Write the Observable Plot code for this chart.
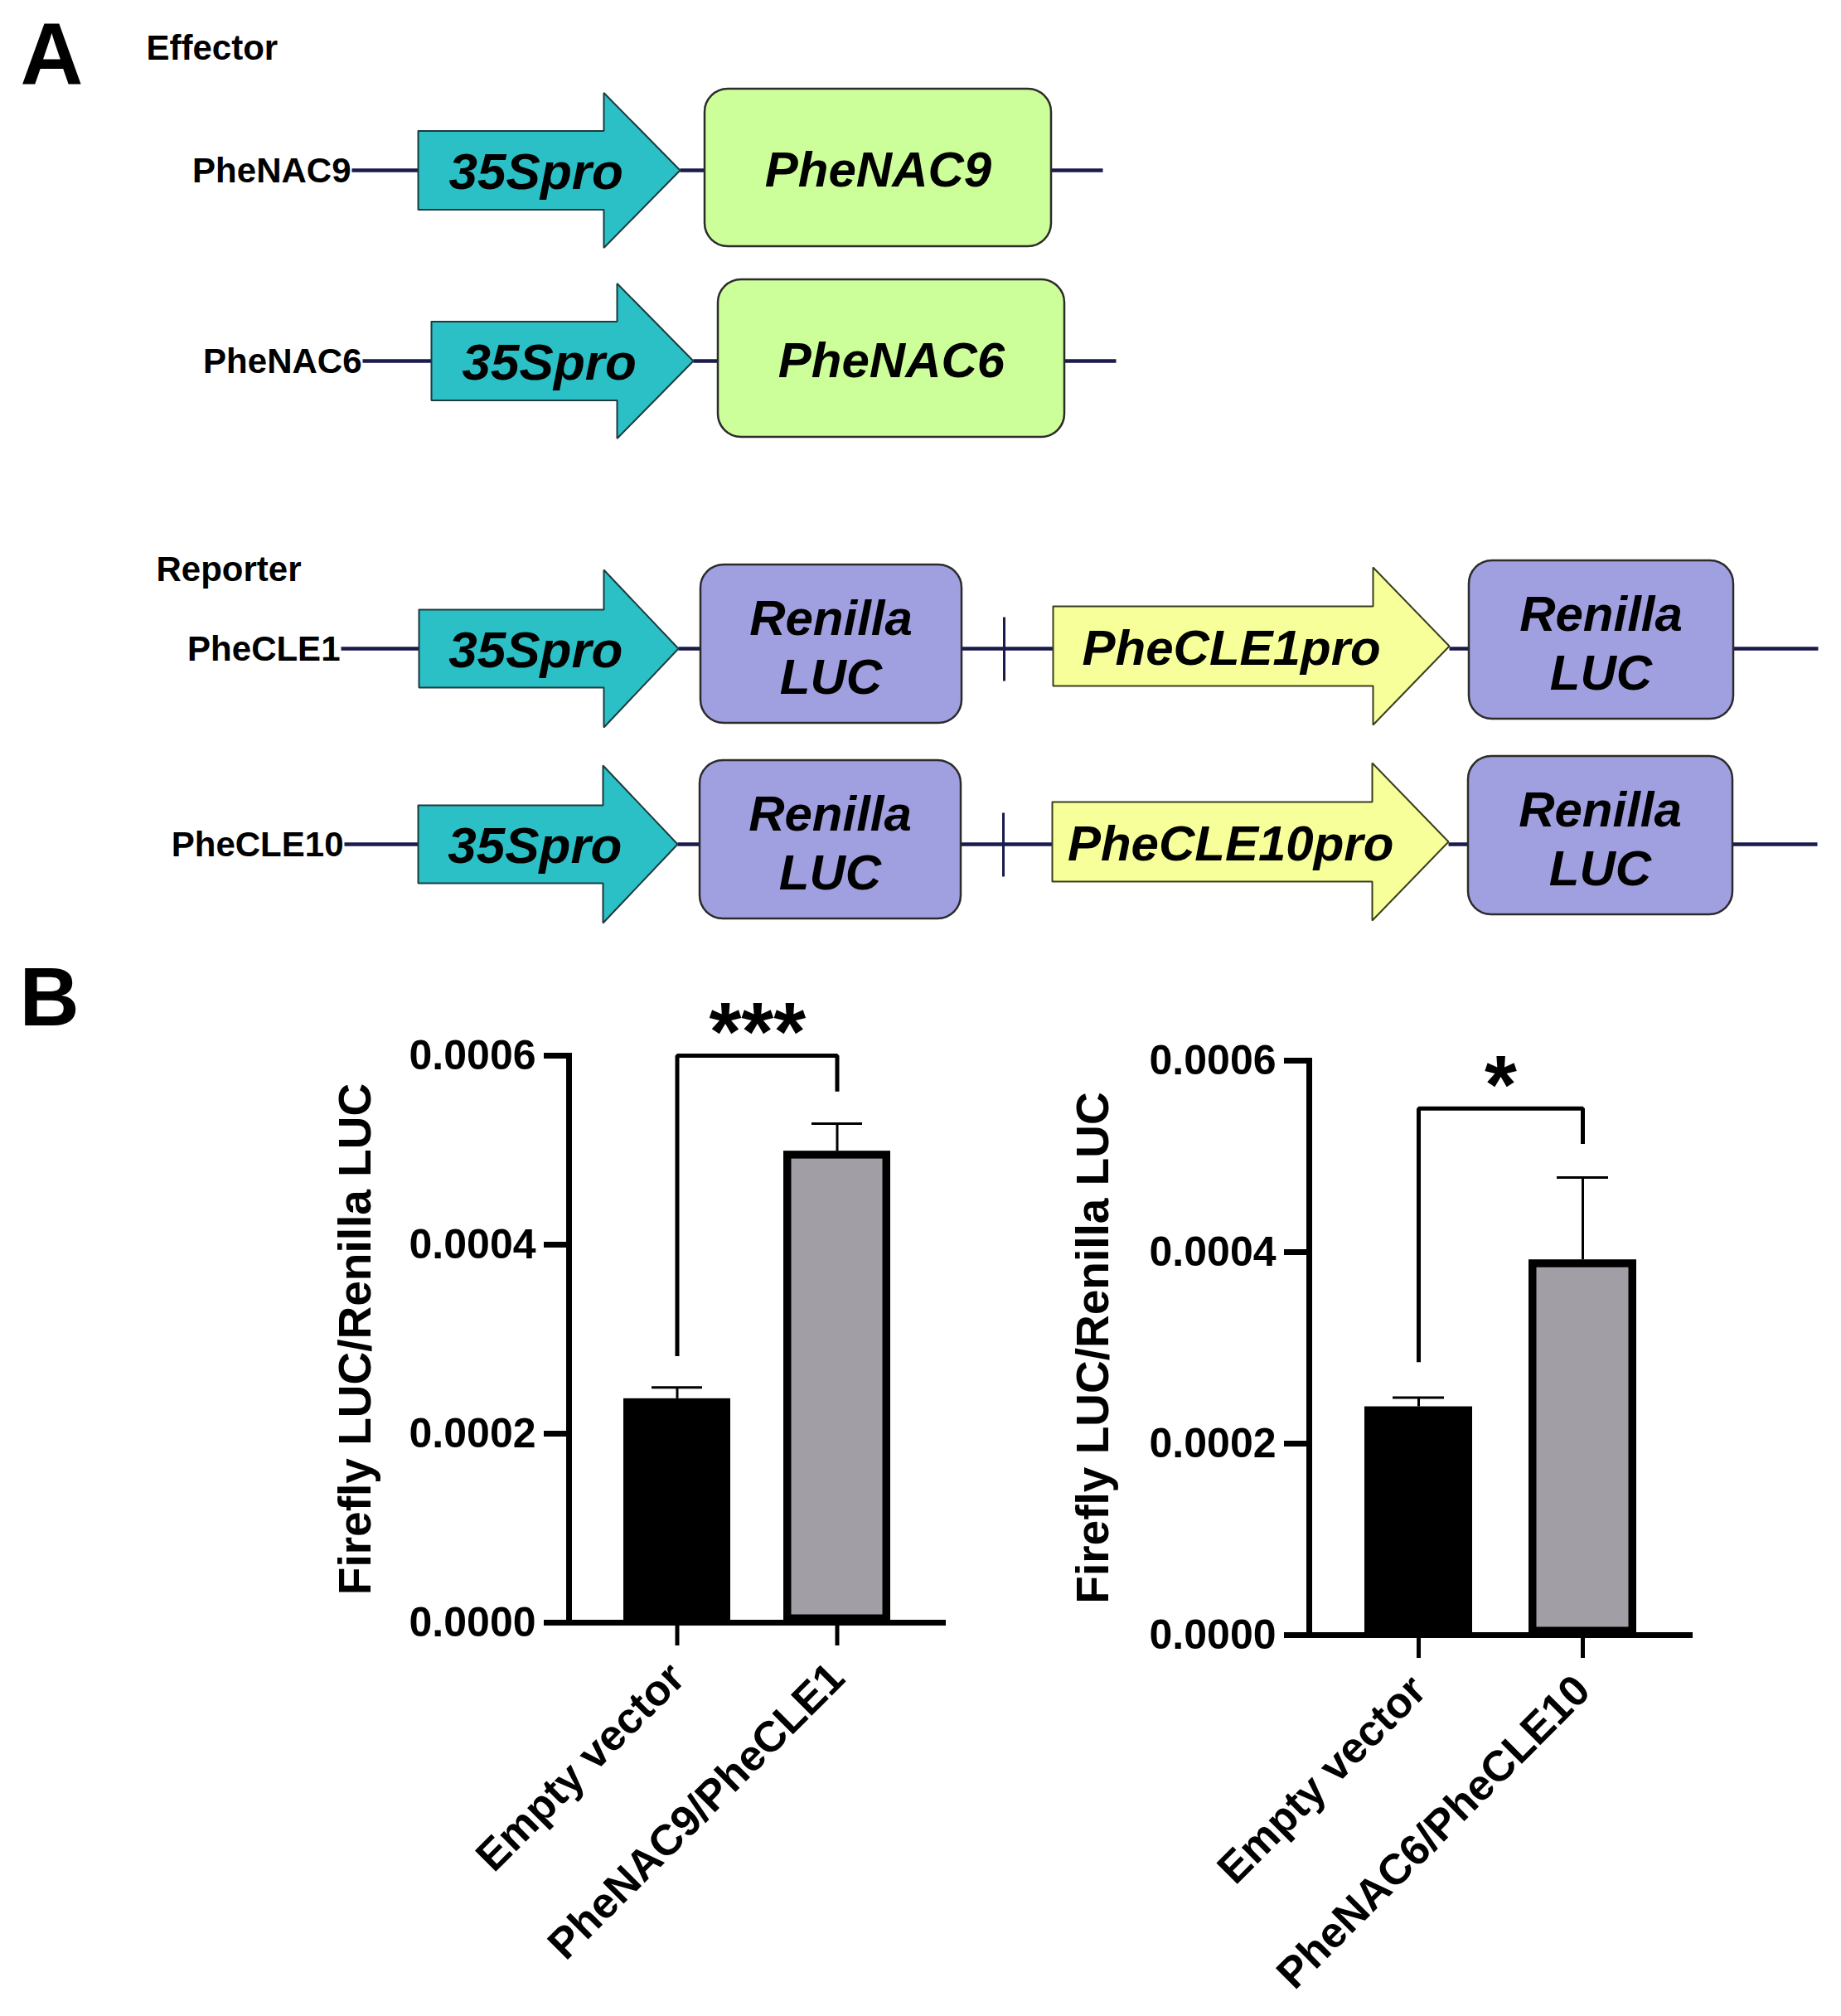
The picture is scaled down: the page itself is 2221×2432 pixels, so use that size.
<!DOCTYPE html>
<html><head><meta charset="utf-8">
<script src="https://cdn.jsdelivr.net/npm/d3@7"></script>
<script src="https://cdn.jsdelivr.net/npm/@observablehq/plot@0.6"></script>
<style>
html,body{margin:0;padding:0;background:#fff;}
#fig{position:relative;width:2221px;height:2432px;overflow:hidden;background:#fff;}
#fig svg{position:absolute;}
</style></head><body><div id="fig"></div>
<script>
// ---------------- data ----------------
const effectors = ["PheNAC9", "PheNAC6"];
const reporters = ["PheCLE1", "PheCLE10"];
const reporterPromoters = ["PheCLE1pro", "PheCLE10pro"];
const constitutivePromoter = "35Spro";
const normalizerGene = "Renilla\nLUC";
const sectionTitles = ["Effector", "Reporter"];
const panelLetters = ["A", "B"];

const groups1 = ["Empty vector", "PheNAC9/PheCLE1"];
const means1 = [0.000237, 0.000499];
const sems1 = [0.000012, 0.000029];
const bracket1 = [0.000282, 0.0006, 0.000562]; // left arm start, top, right arm end
const sig1 = "***";

const groups2 = ["Empty vector", "PheNAC6/PheCLE10"];
const means2 = [0.0002385, 0.000392];
const sems2 = [0.0000095, 0.000086];
const bracket2 = [0.000285, 0.00055, 0.000513];
const sig2 = "*";

const yTicks = [0, 0.0002, 0.0004, 0.0006];
const yLabel = "Firefly LUC/Renilla LUC";

// ---------------- style ----------------
const FONT = '"Liberation Sans", Arial, Helvetica, sans-serif';
const NAVY = "#1b1b4d";
const TEAL = "#2bbfc6", GREEN = "#ccff99", PURPLE = "#a0a0e0", YELLOW = "#f6ff99";
const BAR_COLORS = ["#000000", "#a19fa5"];
const fig = document.getElementById("fig");

// ---------------- panel A: construct diagram ----------------
const links = [], ticks = [], tealArrows = [], yellowArrows = [], boxes = [], texts = [];
function arrow(list, id, x0, xb, xt, cy, hb, hh) {
  [[x0, cy - hb], [xb, cy - hb], [xb, cy - hh], [xt, cy], [xb, cy + hh], [xb, cy + hb], [x0, cy + hb], [x0, cy - hb]]
    .forEach(([x, y]) => list.push({id, x, y}));
}
const effRows = [{cy: 205, a: 504, end: 424}, {cy: 435, a: 520, end: 437}];
effectors.forEach((name, i) => {
  const {cy, a, end} = effRows[i];
  links.push({x1: end, x2: a, y: cy}, {x1: a + 316, x2: a + 346, y: cy}, {x1: a + 764, x2: a + 826, y: cy});
  arrow(tealArrows, "e" + i, a, a + 224, a + 316, cy, 47.5, 93.5);
  boxes.push({x1: a + 346, x2: a + 764, y1: cy - 98, y2: cy + 92, fill: GREEN});
  texts.push({x: end - 1, y: cy + 1, t: name, size: 42, style: "normal", anchor: "end"});
  texts.push({x: a + 0.45 * 316, y: cy - 1, t: constitutivePromoter, size: 62, style: "italic", anchor: "middle"});
  texts.push({x: a + 555, y: cy - 3, t: name, size: 60, style: "italic", anchor: "middle"});
});
const repRows = [{cy: 782, a: 505, end: 411}, {cy: 1018, a: 504, end: 415}];
reporters.forEach((name, i) => {
  const {cy, a, end} = repRows[i];
  links.push({x1: end, x2: a, y: cy}, {x1: a + 313, x2: a + 340, y: cy}, {x1: a + 655, x2: a + 765, y: cy},
             {x1: a + 1243, x2: a + 1267, y: cy}, {x1: a + 1586, x2: a + 1688, y: cy});
  ticks.push({x: a + 706, y1: cy - 38, y2: cy + 39});
  arrow(tealArrows, "r" + i, a, a + 223, a + 313, cy, 47, 95);
  boxes.push({x1: a + 340, x2: a + 655, y1: cy - 101, y2: cy + 90, fill: PURPLE});
  arrow(yellowArrows, "y" + i, a + 765, a + 1151, a + 1243, cy - 3, 48, 95);
  boxes.push({x1: a + 1267, x2: a + 1586, y1: cy - 106, y2: cy + 85, fill: PURPLE});
  texts.push({x: end - 1, y: cy + 1, t: name, size: 42, style: "normal", anchor: "end"});
  texts.push({x: a + 0.45 * 313, y: cy - 1, t: constitutivePromoter, size: 62, style: "italic", anchor: "middle"});
  texts.push({x: a + 765 + 0.45 * 478, y: cy - 3, t: reporterPromoters[i], size: 60, style: "italic", anchor: "middle"});
  texts.push({x: a + 497, y: cy - 4, t: normalizerGene, size: 60, style: "italic", anchor: "middle"});
  texts.push({x: a + 1426, y: cy - 9, t: normalizerGene, size: 60, style: "italic", anchor: "middle"});
});
const headers = [
  {x: 24, y: 101, t: panelLetters[0], size: 105},
  {x: 176, y: 71, t: sectionTitles[0], size: 42},
  {x: 188, y: 700, t: sectionTitles[1], size: 42}
];

const panelA = Plot.plot({
  width: 2221, height: 1150, margin: 0,
  x: {type: "identity", axis: null}, y: {type: "identity", axis: null},
  style: {fontFamily: FONT, background: "transparent", overflow: "visible", color: "black"},
  marks: [
    Plot.link(links, {x1: "x1", x2: "x2", y1: "y", y2: "y", stroke: NAVY, strokeWidth: 4.5}),
    Plot.link(ticks, {x1: "x", x2: "x", y1: "y1", y2: "y2", stroke: NAVY, strokeWidth: 3}),
    Plot.line(tealArrows, {x: "x", y: "y", z: "id", fill: TEAL, stroke: "#1d3b3d", strokeWidth: 2, strokeLinejoin: "miter", curve: "linear"}),
    Plot.line(yellowArrows, {x: "x", y: "y", z: "id", fill: YELLOW, stroke: "#3b3d1d", strokeWidth: 2, strokeLinejoin: "miter", curve: "linear"}),
    Plot.rect(boxes, {x1: "x1", x2: "x2", y1: "y1", y2: "y2", fill: d => d.fill, rx: 28, stroke: "#2b2b2b", strokeWidth: 2.5}),
    Plot.text(texts.filter(d => d.style === "italic"), {x: "x", y: "y", text: "t", fontSize: d => d.size, fontStyle: "italic", textAnchor: "middle", fontWeight: "bold", lineAnchor: "middle", lineHeight: 1.18, fill: "black"}),
    Plot.text(texts.filter(d => d.style === "normal"), {x: "x", y: "y", text: "t", fontSize: d => d.size, textAnchor: "end", fontWeight: "bold", lineAnchor: "middle", fill: "black"}),
    Plot.text(headers, {x: "x", y: "y", text: "t", fontSize: d => d.size, textAnchor: "start", fontWeight: "bold", lineAnchor: "bottom", fill: "black"})
  ]
});
panelA.style.left = "0px"; panelA.style.top = "0px";
fig.appendChild(panelA);

// ---------------- panel B: bar charts ----------------
const TOP = 1150, H = 1282;
function barChart({groups, means, sems, bracket, sig, left, width, axisX, axisEnd, y0px, y6px, padIn, padOut, labelX, sigBaseline, letter}) {
  const data = groups.map((g, i) => ({g, mean: means[i], top: means[i] + sems[i]}));
  const marginLeft = axisX - left, marginRight = left + width - axisEnd;
  const marginTop = y6px - TOP, marginBottom = TOP + H - y0px;
  const plotW = axisEnd - axisX;
  const step = plotW / (groups.length - padIn + 2 * padOut);
  const br = [{g: groups[0], v: bracket[0]}, {g: groups[0], v: bracket[1]}, {g: groups[1], v: bracket[1]}, {g: groups[1], v: bracket[2]}];
  const marks = [
    Plot.ruleX(data, {x: "g", y1: "mean", y2: "top", stroke: "black", strokeWidth: 3}),
    Plot.tickY(data, {x: "g", y: "top", stroke: "black", strokeWidth: 3, insetLeft: 34, insetRight: 34}),
    Plot.barY(data, {x: "g", y: "mean", fill: "g", stroke: "black", strokeWidth: 9.5, inset: 4.75}),
    Plot.line(br, {x: "g", y: "v", stroke: "black", strokeWidth: 5, strokeLinejoin: "miter", strokeLinecap: "butt"}),
    Plot.text([sig], {x: () => groups[0], y: () => sigBaseline, dx: step / 2, fontSize: 100, fontWeight: "bold", lineAnchor: "bottom", fill: "black"}),
    Plot.axisY({ticks: yTicks, tickSize: 30, strokeWidth: 7, tickPadding: 10, fontSize: 50, fontWeight: "bold", tickFormat: d3.format(".4f"), label: null, fill: "black"}),
    Plot.frame({anchor: "left", strokeWidth: 7, stroke: "black"}),
    Plot.ruleY([0], {strokeWidth: 7, stroke: "black", insetLeft: -3.5}),
    Plot.axisX({tickSize: 28, strokeWidth: 5, tickRotate: -45, tickPadding: 30, fontSize: 52, fontWeight: "bold", label: null, fill: "black"}),
    Plot.text([yLabel], {frameAnchor: "left", textAnchor: "middle", rotate: -90, dx: labelX - axisX, fontSize: 55, fontWeight: "bold", fill: "black"})
  ];
  if (letter) marks.push(Plot.text([letter], {frameAnchor: "top-left", dx: 23 - axisX, dy: 1236 - y6px, fontSize: 100, fontWeight: "bold", textAnchor: "start", lineAnchor: "bottom", fill: "black"}));
  const svg = Plot.plot({
    width, height: H, marginLeft, marginRight, marginTop, marginBottom,
    x: {domain: groups, paddingInner: padIn, paddingOuter: padOut, align: 0.5},
    y: {domain: [0, 0.0006]},
    color: {domain: groups, range: BAR_COLORS},
    style: {fontFamily: FONT, background: "transparent", overflow: "visible", color: "black"},
    marks
  });
  svg.style.left = left + "px"; svg.style.top = TOP + "px";
  fig.appendChild(svg);
}

barChart({groups: groups1, means: means1, sems: sems1, bracket: bracket1, sig: sig1,
  left: 0, width: 1200, axisX: 686, axisEnd: 1141, y0px: 1957, y6px: 1273,
  padIn: 0.33, padOut: 0.34, labelX: 429, sigBaseline: 0.000595, letter: panelLetters[1]});
barChart({groups: groups2, means: means2, sems: sems2, bracket: bracket2, sig: sig2,
  left: 1200, width: 1021, axisX: 1579, axisEnd: 2042, y0px: 1972, y6px: 1279,
  padIn: 0.343, padOut: 0.34, labelX: 1319, sigBaseline: 0.000545});
</script></body></html>
